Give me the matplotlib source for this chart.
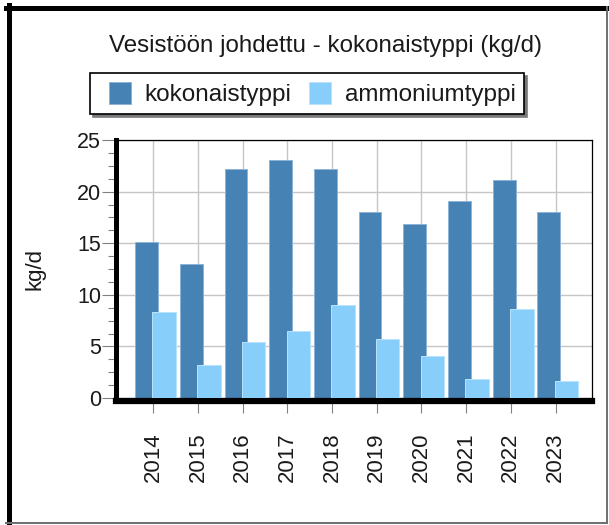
import matplotlib
matplotlib.use('Agg')
import matplotlib.pyplot as plt
from matplotlib.patches import Rectangle
from matplotlib.legend_handler import HandlerPatch
from matplotlib.lines import Line2D
from matplotlib.ticker import MultipleLocator
import numpy as np

plt.rcParams['font.family'] = ['Liberation Sans', 'DejaVu Sans']

# ---- data ----
years = ['2014', '2015', '2016', '2017', '2018', '2019', '2020', '2021', '2022', '2023']
kokonaistyppi = [15.1, 13.0, 22.2, 23.1, 22.2, 18.0, 16.9, 19.1, 21.1, 18.0]
ammoniumtyppi = [8.3, 3.2, 5.4, 6.5, 9.0, 5.7, 4.1, 1.8, 8.6, 1.6]
series_labels = ['kokonaistyppi', 'ammoniumtyppi']
y_ticks = [0, 5, 10, 15, 20, 25]
title = 'Vesistöön johdettu - kokonaistyppi (kg/d)'
y_label = 'kg/d'

# ---- figure ----
W, H = 609, 525
fig = plt.figure(figsize=(W / 100, H / 100), dpi=100, facecolor='white')


def fx(px):
    return px / W


def fy(py):
    return 1 - py / H


ax = fig.add_axes([fx(116), fy(398), (592 - 116) / W, (398 - 140) / H])
x = np.arange(len(years))
b1 = ax.bar(x - 0.15, kokonaistyppi, width=0.51, color='#4682B4',
            edgecolor='#8db4d6', linewidth=0.7, label=series_labels[0], zorder=2)
b2 = ax.bar(x + 0.245, ammoniumtyppi, width=0.525, color='#87CEFA',
            edgecolor='#b9e3fc', linewidth=0.7, label=series_labels[1], zorder=3)

ax.set_xlim(-0.833, 9.815)
ax.set_ylim(0, 25)
ax.set_xticks(x)
ax.set_xticklabels(years)
ax.set_yticks(y_ticks)
ax.yaxis.set_minor_locator(MultipleLocator(1.25))
ax.tick_params(axis='y', which='major', length=10.3, width=0.8, color='#808080',
               pad=0.5, labelsize=15.5, labelcolor='#1a1a1a')
ax.tick_params(axis='y', which='minor', length=5.5, width=0.8, color='#808080')
ax.tick_params(axis='x', length=8.3, width=0.8, color='#808080', pad=15,
               labelsize=16, labelcolor='#1a1a1a', labelrotation=90)
ax.grid(True, color='#c6c6c6', linewidth=1.0)
ax.set_axisbelow(True)

ax.spines['top'].set_linewidth(0.9)
ax.spines['right'].set_linewidth(0.9)
ax.spines['left'].set_linewidth(3.6)
ax.spines['bottom'].set_linewidth(4.5)
ax.spines['bottom'].set_position(('outward', 1.8))
for s in ax.spines.values():
    s.set_color('black')

ax.set_ylabel(y_label, fontsize=16, color='#1a1a1a')
ax.yaxis.set_label_coords(-0.149, 0.5)

# title
fig.text(fx(325.5), fy(52), title, ha='center', va='baseline', fontsize=17.4,
         color='#1a1a1a')


# legend with square keys
def sq_patch(legend, orig_handle, xdescent, ydescent, width, height, fontsize):
    s = height
    return Rectangle((-xdescent + width - s, -ydescent), s, height)


leg = fig.legend([b1.patches[0], b2.patches[0]], series_labels,
                 loc='upper left', bbox_to_anchor=(fx(90), fy(73)),
                 bbox_transform=fig.transFigure, ncol=2, fontsize=17.5,
                 frameon=True, fancybox=False,
                 shadow={'color': '#7a7a7a', 'alpha': 1},
                 borderpad=0.35, handlelength=1.33, handleheight=1.03,
                 handletextpad=0.56, columnspacing=0.3, borderaxespad=0,
                 handler_map={Rectangle: HandlerPatch(patch_func=sq_patch)})
leg.get_frame().set_edgecolor('black')
leg.get_frame().set_linewidth(1.2)
for t in leg.get_texts():
    t.set_color('#1a1a1a')

# outer frame
fig.add_artist(Line2D([fx(6), fx(607)], [fy(7.5), fy(7.5)],
                      transform=fig.transFigure, color='black', lw=3.6))
fig.add_artist(Line2D([fx(8.5), fx(8.5)], [fy(5), fy(523)],
                      transform=fig.transFigure, color='black', lw=3.6))
fig.add_artist(Line2D([fx(606.5), fx(606.5)], [fy(7), fy(523)],
                      transform=fig.transFigure, color='#6e6e6e', lw=1.4))
fig.add_artist(Line2D([fx(6), fx(607)], [fy(522.5), fy(522.5)],
                      transform=fig.transFigure, color='#6e6e6e', lw=1.4))

fig.savefig('out.png', dpi=100, facecolor='white')
